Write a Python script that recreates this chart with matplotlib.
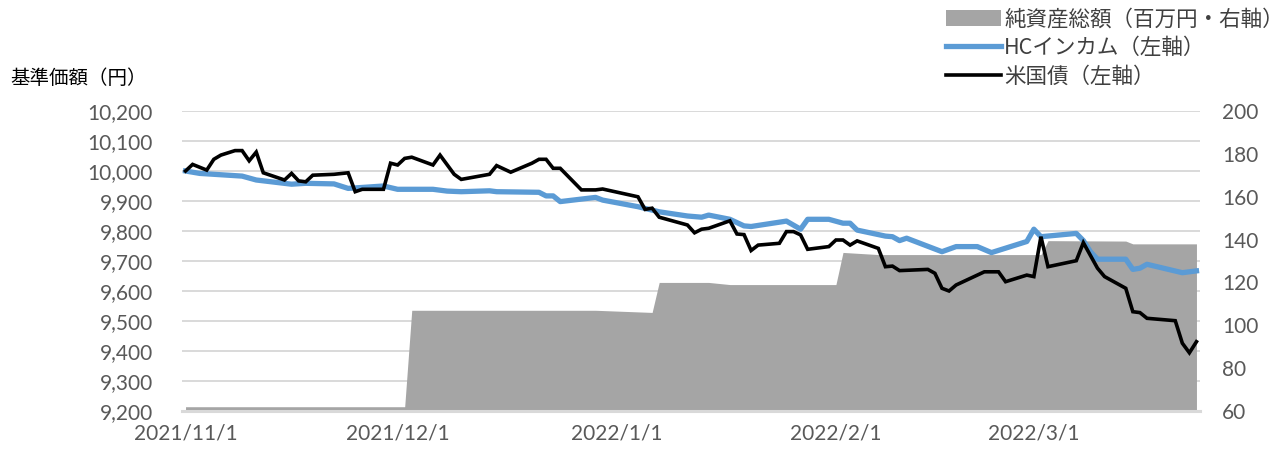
import matplotlib
matplotlib.use("Agg")
import matplotlib.pyplot as plt
import matplotlib.dates as mdates
import matplotlib.ticker as mticker
import pandas as pd

# 米国債（左軸）
bond_dates = ['2021-11-01', '2021-11-02', '2021-11-04', '2021-11-05', '2021-11-06', '2021-11-08',
              '2021-11-09', '2021-11-10', '2021-11-11', '2021-11-12', '2021-11-15', '2021-11-16',
              '2021-11-17', '2021-11-18', '2021-11-19', '2021-11-22', '2021-11-24', '2021-11-25',
              '2021-11-26', '2021-11-29', '2021-11-30', '2021-12-01', '2021-12-02', '2021-12-03',
              '2021-12-06', '2021-12-07', '2021-12-09', '2021-12-10', '2021-12-14', '2021-12-15',
              '2021-12-17', '2021-12-20', '2021-12-21', '2021-12-22', '2021-12-23', '2021-12-24',
              '2021-12-27', '2021-12-29', '2021-12-30', '2022-01-04', '2022-01-05', '2022-01-06',
              '2022-01-07', '2022-01-11', '2022-01-12', '2022-01-13', '2022-01-14', '2022-01-17',
              '2022-01-18', '2022-01-19', '2022-01-20', '2022-01-21', '2022-01-24', '2022-01-25',
              '2022-01-26', '2022-01-27', '2022-01-28', '2022-01-31', '2022-02-01', '2022-02-02',
              '2022-02-03', '2022-02-04', '2022-02-07', '2022-02-08', '2022-02-09', '2022-02-10',
              '2022-02-14', '2022-02-15', '2022-02-16', '2022-02-17', '2022-02-18', '2022-02-22',
              '2022-02-24', '2022-02-25', '2022-02-28', '2022-03-01', '2022-03-02', '2022-03-03',
              '2022-03-07', '2022-03-08', '2022-03-10', '2022-03-11', '2022-03-14', '2022-03-15',
              '2022-03-16', '2022-03-17', '2022-03-21', '2022-03-22', '2022-03-23', '2022-03-24']
bond_vals = [10000, 10022, 10003, 10039, 10053, 10068,
             10068, 10034, 10063, 9994, 9970, 9992,
             9967, 9964, 9986, 9989, 9994, 9931,
             9939, 9939, 10026, 10020, 10042, 10046,
             10020, 10053, 9989, 9972, 9989, 10018,
             9996, 10026, 10039, 10039, 10009, 10009,
             9937, 9937, 9940, 9914, 9872, 9876,
             9846, 9820, 9794, 9806, 9809, 9834,
             9790, 9788, 9735, 9753, 9759, 9798,
             9798, 9787, 9739, 9748, 9770, 9770,
             9753, 9767, 9742, 9681, 9683, 9668,
             9672, 9659, 9609, 9600, 9620, 9664,
             9664, 9631, 9653, 9648, 9781, 9681,
             9701, 9761, 9676, 9648, 9609, 9531,
             9528, 9509, 9501, 9426, 9394, 9431]

# HCインカム（左軸）
hc_dates = ['2021-11-01', '2021-11-03', '2021-11-09', '2021-11-11', '2021-11-16', '2021-11-18',
            '2021-11-22', '2021-11-24', '2021-11-29', '2021-12-01', '2021-12-06', '2021-12-08',
            '2021-12-10', '2021-12-14', '2021-12-15', '2021-12-21', '2021-12-22', '2021-12-23',
            '2021-12-24', '2021-12-29', '2021-12-30', '2022-01-04', '2022-01-07', '2022-01-11',
            '2022-01-13', '2022-01-14', '2022-01-17', '2022-01-19', '2022-01-20', '2022-01-25',
            '2022-01-27', '2022-01-28', '2022-01-31', '2022-02-02', '2022-02-03', '2022-02-04',
            '2022-02-08', '2022-02-09', '2022-02-10', '2022-02-11', '2022-02-16', '2022-02-18',
            '2022-02-21', '2022-02-23', '2022-02-28', '2022-03-01', '2022-03-02', '2022-03-07',
            '2022-03-08', '2022-03-09', '2022-03-10', '2022-03-14', '2022-03-15', '2022-03-16',
            '2022-03-17', '2022-03-22', '2022-03-24']
hc_vals = [10000, 9992, 9983, 9970, 9956, 9959,
           9957, 9942, 9950, 9939, 9939, 9933,
           9931, 9934, 9931, 9929, 9917, 9917,
           9898, 9912, 9903, 9881, 9864, 9850,
           9846, 9853, 9839, 9817, 9815, 9833,
           9806, 9839, 9839, 9826, 9826, 9803,
           9783, 9781, 9768, 9776, 9731, 9748,
           9748, 9728, 9765, 9806, 9781, 9792,
           9768, 9731, 9706, 9706, 9672, 9676,
           9689, 9661, 9667]

# 純資産総額（百万円・右軸）
nav_dates = ['2021-11-01', '2021-12-02', '2021-12-03', '2021-12-29', '2022-01-06', '2022-01-07',
             '2022-01-14', '2022-01-17', '2022-02-01', '2022-02-02', '2022-02-07', '2022-03-02',
             '2022-03-03', '2022-03-14', '2022-03-15', '2022-03-24']
nav_vals = [62, 62, 107, 107, 106, 120,
            120, 119, 119, 134, 133, 133,
            139.5, 139.3, 138, 138]

date_ticks = ['2021-11-01', '2021-12-01', '2022-01-01', '2022-02-01', '2022-03-01']

bond_x = pd.to_datetime(bond_dates)
hc_x = pd.to_datetime(hc_dates)
nav_x = pd.to_datetime(nav_dates)

jp = ['Noto Sans CJK JP', 'DejaVu Sans']
num = ['Lato', 'DejaVu Sans']
tick_col = '#595959'
grid_col = '#D9D9D9'

fig = plt.figure(figsize=(12.84, 4.51), dpi=100)
rect = [182 / 1284, 40 / 451, 1018 / 1284, 300 / 451]

# base axes: left scale, grid, date labels
ax = fig.add_axes(rect)
ax.set_ylim(9200, 10200)
ax.yaxis.set_major_locator(mticker.MultipleLocator(100))
ax.yaxis.set_major_formatter(mticker.StrMethodFormatter('{x:,.0f}'))
ax.grid(axis='y', color=grid_col, lw=1.4)
ax.set_axisbelow(True)
for s in ax.spines.values():
    s.set_visible(False)
ax.tick_params(axis='both', length=0, colors=tick_col, labelsize=15)
ax.tick_params(axis='y', pad=21)
ax.tick_params(axis='x', pad=9)
ax.set_xticks(pd.to_datetime(date_ticks))
ax.xaxis.set_major_formatter(mdates.DateFormatter('%Y/%-m/%-d'))
for lb in ax.get_xticklabels() + ax.get_yticklabels():
    lb.set_family(num)

x0 = pd.Timestamp('2021-11-01') - pd.Timedelta(hours=12)
x1 = pd.Timestamp('2022-03-24') + pd.Timedelta(hours=12)
ax.set_xlim(x0, x1)

# right axes: net assets area
ax2 = ax.twinx()
ax2.set_ylim(60, 200)
ax2.yaxis.set_major_locator(mticker.MultipleLocator(20))
area = ax2.fill_between(nav_x, nav_vals, 0, color='#A5A5A5', lw=0,
                        label='純資産総額（百万円・右軸）')
for k, s in ax2.spines.items():
    s.set_visible(k == 'bottom')
ax2.spines['bottom'].set_color(grid_col)
ax2.spines['bottom'].set_linewidth(2.2)
ax2.tick_params(axis='y', length=0, colors=tick_col, labelsize=15, pad=16)
for lb in ax2.get_yticklabels():
    lb.set_family(num)
ax2.set_xlim(x0, x1)

# top axes: price lines
ax3 = fig.add_axes(rect, sharex=ax, sharey=ax)
ax3.set_zorder(ax2.get_zorder() + 1)
ax3.patch.set_visible(False)
ax3.axis('off')
l1, = ax3.plot(hc_x, hc_vals, color='#5B9BD5', lw=3.8, label='HCインカム（左軸）',
               solid_joinstyle='round')
l2, = ax3.plot(bond_x, bond_vals, color='black', lw=2.6, label='米国債（左軸）',
               solid_joinstyle='miter')
ax3.set_xlim(x0, x1)
ax3.set_ylim(9200, 10200)

fig.text(10 / 1284, 1 - 78 / 451, '基準価額（円）', family=jp, fontsize=14,
         va='center', ha='left', color='black')

fig.legend(handles=[area, l1, l2], loc='upper right', bbox_to_anchor=(1.0, 0.981),
           frameon=False, prop={'family': jp, 'size': 15.5}, handlelength=2.55,
           handletextpad=0.15, labelspacing=0.3, borderpad=0.0, borderaxespad=0.0,
           labelcolor='#404040')

fig.savefig('out.png', dpi=100)
